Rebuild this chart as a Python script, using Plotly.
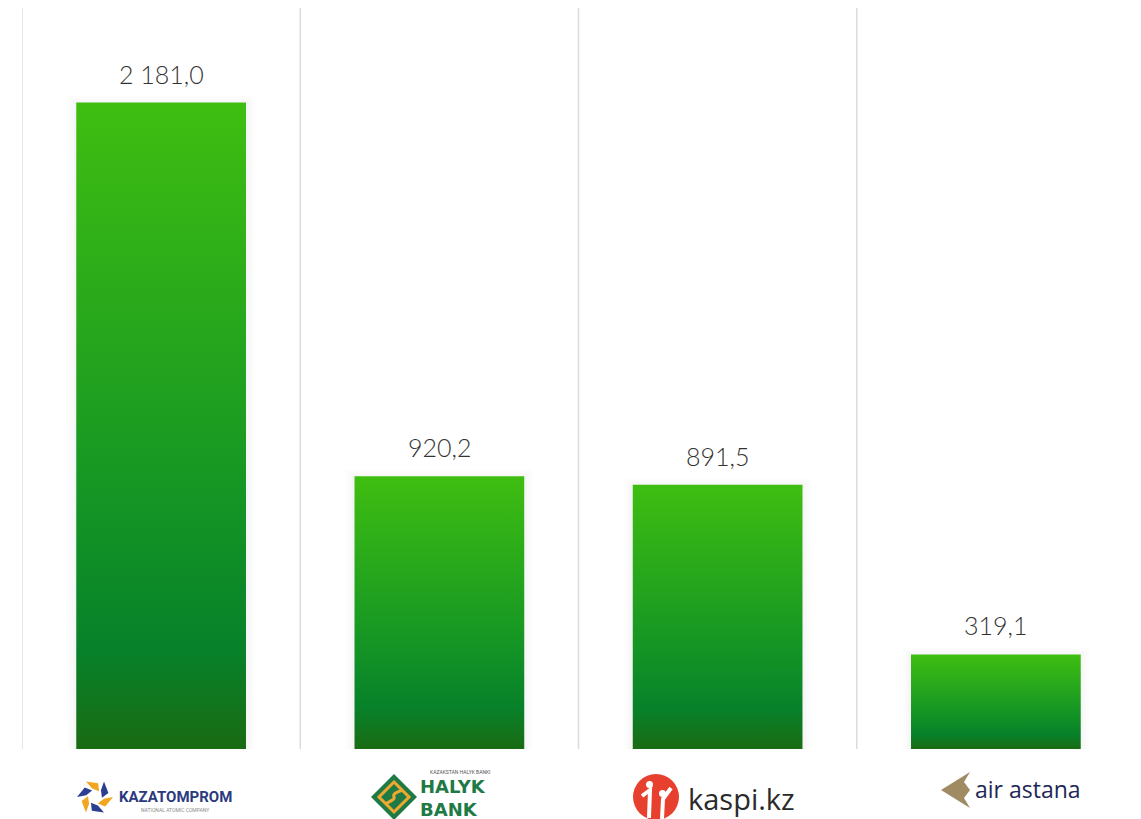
import math
import plotly.graph_objects as go

# ---- data ----
companies = ["Kazatomprom", "Halyk Bank", "Kaspi.kz", "Air Astana"]
values = [2181.0, 920.2, 891.5, 319.1]
value_labels = ["2 181,0", "920,2", "891,5", "319,1"]

OFF = 8  # page body margin
W, H = 1141 - OFF, 819 - OFF
L, R, T, B = 22 - OFF, 6, 0, 70
PW, PH = W - L - R, H - T - B

def px(x):  # screenshot pixel -> paper
    return (x - OFF - L) / PW

def py(y):
    return (H - B - (y - OFF)) / PH

bar_half = 0.305
grad = [[0.0, "#1a6b12"], [0.15, "#07812a"], [0.4, "#159624"], [1.0, "#3fbe11"]]

fig = go.Figure()
for i, (c, v) in enumerate(zip(companies, values)):
    for s in (0.03, 0.018, 0.009):
        fig.add_trace(go.Scatter(
            x=[i - bar_half - s, i + bar_half + s, i + bar_half + s, i - bar_half - s, i - bar_half - s],
            y=[0, 0, v + s * 700, v + s * 700, 0], fill="toself", mode="lines",
            line=dict(width=0), fillcolor="rgba(0,0,0,0.012)", hoverinfo="skip", showlegend=False))
    fig.add_trace(go.Scatter(
        x=[i - bar_half, i + bar_half, i + bar_half, i - bar_half, i - bar_half],
        y=[0, 0, v, v, 0], fill="toself", mode="lines", line=dict(width=0),
        fillgradient=dict(type="vertical", colorscale=grad),
        name=c, showlegend=False, hoverinfo="skip"))

for i, (v, lab) in enumerate(zip(values, value_labels)):
    fig.add_annotation(x=i, y=v, text=lab, showarrow=False, xanchor="center", yanchor="bottom", yshift=12,
                       font=dict(family="Lato", size=25, color="#333333", weight=300))

shapes = []
for k in range(len(companies) + 1):
    shapes.append(dict(type="line", xref="x", yref="paper", x0=k - 0.5, x1=k - 0.5, y0=0, y1=1,
                       line=dict(color="#dcdcdc", width=1.5), layer="below"))

def ann(x, y, text, family, size, color, xanchor="center", align="center"):
    fig.add_annotation(xref="paper", yref="paper", x=px(x), y=py(y), text=text, showarrow=False,
                       xanchor=xanchor, yanchor="middle", borderpad=0, align=align,
                       font=dict(family=family, size=size, color=color))

def poly(pts, col):
    path = "M " + " L ".join(f"{px(x):.5f},{py(y):.5f}" for x, y in pts) + " Z"
    shapes.append(dict(type="path", xref="paper", yref="paper", path=path, fillcolor=col, line=dict(width=0)))

# ---- logos (drawn) ----
# Kazatomprom pinwheel
cx, cy = 95, 797
for k in range(6):
    a = math.radians(120 - 60 * k)
    col = "#f2a51f" if k % 2 == 0 else "#2c3e8f"
    p1 = (cx + 18 * math.cos(a), cy - 18 * math.sin(a))
    p2 = (cx + 14 * math.cos(a - 0.75), cy - 14 * math.sin(a - 0.75))
    p3 = (cx + 7 * math.cos(a - 1.15), cy - 7 * math.sin(a - 1.15))
    p4 = (cx + 9 * math.cos(a - 0.2), cy - 9 * math.sin(a - 0.2))
    poly([p1, p2, p3, p4], col)
ann(175, 797, "<b>KAZATOMPROM</b>", "Roboto", 15, "#2b3a80")
ann(175, 810, "NATIONAL ATOMIC COMPANY", "Roboto", 5, "#8a8a8a")

# Halyk Bank diamond
hx, hy = 394, 797
def dpts(r):
    return [(hx, hy - r), (hx + r, hy), (hx, hy + r), (hx - r, hy)]
poly(dpts(23), "#1f7a45")
path = "M " + " L ".join(f"{px(x):.5f},{py(y):.5f}" for x, y in dpts(15)) + " Z"
shapes.append(dict(type="path", xref="paper", yref="paper", path=path, line=dict(color="#f0a830", width=3)))
shapes.append(dict(type="path", xref="paper", yref="paper",
                   path=f"M {px(hx-9):.5f},{py(hy+7):.5f} Q {px(hx+2):.5f},{py(hy+2):.5f} {px(hx):.5f},{py(hy):.5f} Q {px(hx-2):.5f},{py(hy-4):.5f} {px(hx+9):.5f},{py(hy-7):.5f}",
                   line=dict(color="#f0a830", width=3)))
ann(460, 772, "KAZAKSTAN HALYK BANKI", "Roboto", 5, "#555555")
ann(419, 798, "<b>HALYK<br>BANK</b>", "DejaVu Sans", 18, "#1f7a45", xanchor="left", align="left")

# Kaspi circle
kx, ky, kr = 656, 797, 23
shapes.append(dict(type="circle", xref="paper", yref="paper", x0=px(kx - kr), x1=px(kx + kr),
                   y0=py(ky + kr), y1=py(ky - kr), fillcolor="#e8402f", line=dict(width=0)))
shapes.append(dict(type="path", xref="paper", yref="paper",
                   path=f"M {px(649):.5f},{py(818):.5f} L {px(650):.5f},{py(790):.5f} L {px(642):.5f},{py(796):.5f}",
                   line=dict(color="white", width=4)))
shapes.append(dict(type="path", xref="paper", yref="paper",
                   path=f"M {px(662):.5f},{py(819):.5f} L {px(663):.5f},{py(799):.5f} L {px(671):.5f},{py(788):.5f}",
                   line=dict(color="white", width=4)))
shapes.append(dict(type="circle", xref="paper", yref="paper", x0=px(646), x1=px(653),
                   y0=py(788), y1=py(781), fillcolor="white", line=dict(width=0)))
shapes.append(dict(type="circle", xref="paper", yref="paper", x0=px(659), x1=px(666),
                   y0=py(797), y1=py(790), fillcolor="white", line=dict(width=0)))
ann(741, 798, "kaspi.kz", "Open Sans", 29, "#2a2a2a")

# Air Astana arrow
poly([(970, 772), (941, 790), (970, 808), (964, 798), (970, 790), (964, 782)], "#a08a64")
ann(1028, 789, "air astana", "Open Sans", 23, "#1d2756")

fig.update_layout(
    width=W, height=H, margin=dict(l=L, r=R, t=T, b=B),
    paper_bgcolor="white", plot_bgcolor="white", shapes=shapes,
    xaxis=dict(range=[-0.5, len(companies) - 0.5], showgrid=False, zeroline=False,
               showticklabels=False, showline=False, fixedrange=True),
    yaxis=dict(range=[0, 2500], showgrid=False, zeroline=False, showticklabels=False,
               showline=False, fixedrange=True),
)
fig.write_html("out.html")
